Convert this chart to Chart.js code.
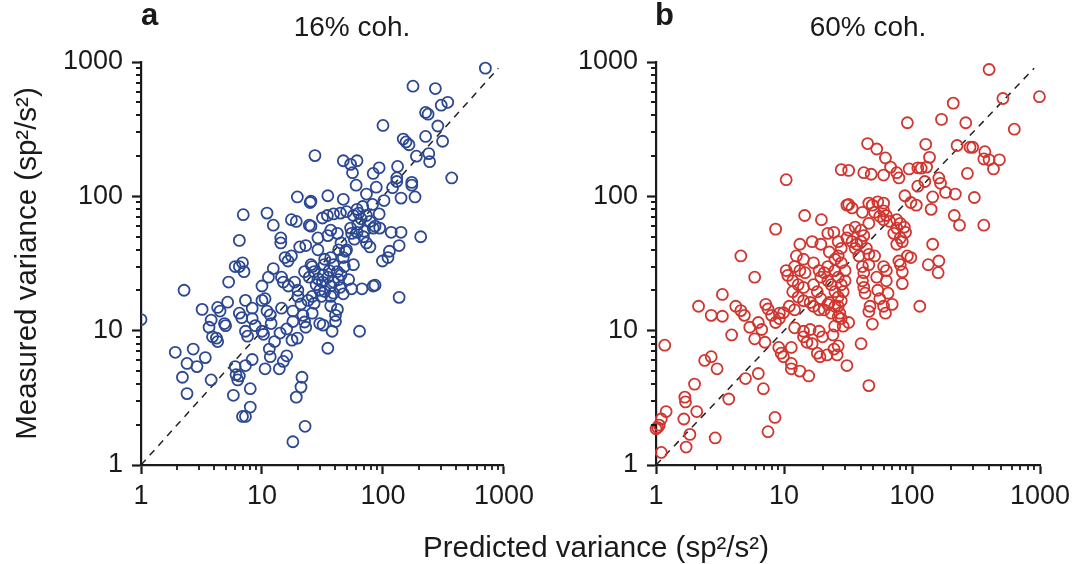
<!DOCTYPE html>
<html><head><meta charset="utf-8">
<script src="https://cdn.jsdelivr.net/npm/chart.js@4.4.1/dist/chart.umd.min.js"></script>
<style>
html,body{margin:0;padding:0;background:#fff;width:1081px;height:564px;overflow:hidden;}
body{position:relative;font-family:"Liberation Sans",Arial,sans-serif;color:#1a1a1a;}
canvas{position:absolute;top:0;}
#ca{left:0;}
#cb{left:540px;}
.lbl{position:absolute;white-space:nowrap;line-height:1;}
</style></head><body>
<canvas id="ca" width="540" height="564"></canvas>
<canvas id="cb" width="541" height="564"></canvas>
<div class="lbl" style="left:141px;top:-1px;font-weight:bold;font-size:31px;">a</div>
<div class="lbl" style="left:252px;width:200px;text-align:center;top:13px;font-size:28px;">16% coh.</div>
<div class="lbl" style="left:655px;top:-1px;font-weight:bold;font-size:31px;">b</div>
<div class="lbl" style="left:768px;width:200px;text-align:center;top:13px;font-size:28px;">60% coh.</div>
<div class="lbl" style="left:396px;width:400px;text-align:center;top:532px;font-size:29.5px;">Predicted variance (sp²/s²)</div>
<script>
// ---- data ----
const predA = [702,177,271,343,303,225,236,100,284,147,155,164,225,311,27.4,189,239,243,47,61,54,56,93,132,370,83,130,130,173,173,60,88,120,184,141,73,102,19.6,25.4,25,35,47,82,68,93,61,7.0,11,12.4,17.5,19.2,24.6,25.4,31.6,34.7,39,44.5,50,57,63,73,78,86,94,117,141,205,136,113,110,99,54,55,61,69,73,78,83,37,42,45,43,35,29,29,23,14.3,14.3,20.5,15.5,16.4,17.5,6.5,6.9,6.5,6.0,7.1,12.4,11.3,10,5.3,14.5,15,18.6,19.8,16.5,25.4,32.6,37,39,47,49,57,22.5,24.6,27,29,31.6,35,37,39,43,42,45,19.8,21,24,26,30,33,37,39,47,55,67,83,86,136,10.6,10,7.3,5.2,4.3,4.5,3.2,6.5,6.8,8.3,11,11.7,14.5,18,18,21.8,22.5,26,40.5,42,37,3.8,3.65,4.9,8.3,8.8,11.9,10,10.3,7.3,7.6,14.1,16,19.6,23,30,32,38,40.5,64,35,3.9,4.2,4.3,5,1.92,2.7,2.4,2.9,3.4,2.2,2.4,3.8,6.0,6.1,6.3,6.5,7.3,8.3,8,5.8,8,6.9,7.3,10.6,11.7,11.5,12.7,13.9,15,16,17.7,19.2,21,21.4,22.7,18,1.0,2.27,28,32,36,26,33,48,44,52,62,66,70,58,31,27,50];
const measA = [900,661,634,501,477,421,409,337,334,267,254,242,279,257,201,199,208,181,184,184,173,150,163,167,137,148,137,129,127,121,121,117,116,99,97,104,93,99,92,90,101,95,87,84,74,80,73,75,61,67,65,61,60,69,72,74,75,77,72,75,72,65,60,58,54,54,50,43,39,35,33,58,53,54,50,45,42,58,56,53,45,40,51,49,40,43,49,45,42,35,33,36,47,32,30,30,27.5,29,25,21.5,23,25,23,23,20,21.5,31,31,35,31,35,39,31,27.5,25,27.5,24.3,23,25,21.5,23,24,27.5,26,18,15.8,16.8,18,20,19.6,18,19,18.8,20.5,20.5,21.5,21.8,17.7,17.3,16.8,16.8,16.3,14.9,14,14.4,13.5,12.5,14.7,14,13.1,14.7,14,11.7,13,11.6,13.5,13,14.4,15.3,12,10.6,11.3,12.3,10.9,11.3,9.9,9.4,9.9,9.1,9.6,10.3,8.8,10.6,11.3,11,9.9,11.7,9.9,7.4,9,8.8,8.3,10.9,6.9,7.3,5.7,5.4,6.3,4.5,3.4,4.3,5.4,4.7,4.3,4.6,5.5,6.1,3.7,3.3,2.7,2.3,2.3,5.2,6.4,7.3,8.3,5.2,5.9,6.5,8.5,3.2,3.8,4.5,1.94,1.49,12.1,20,22,26,28,30,34,30,21,24,62,68,55,48,18,16,40];
const predB = [400,513,990,630,210,170,92,263,271,45,53,128,225,284,298,371,62,137,364,400,482,433,68,28,32,42,48,60,76,79,95,111,118,130,162,167,111,126,183,145,88,307,218,214,235,364,141,98,108,10.4,14.5,19.6,8.6,22,24.5,32,34,41,46,49,54,60,60,51,56,63,67,76,81,87,89,76,81,84,72,76,60,46,36,40,42,32,31,34,37,40,44,46,36,38.5,46,41,42,41,42,43,53,60,63,51,26.5,28,26.5,22.6,25,28,30,25,26.5,28,30,29,28,22,20.6,22,23.4,25,26.5,22.6,25,26.5,23.4,27.3,17,18.8,19.4,17,18.2,19.4,16,17,18.8,20.6,22,13.3,16.6,19.4,12.5,14.2,12.1,13.3,14.6,11.7,12.9,14.2,11.7,12.9,14.2,11,12.1,10.4,10.7,5.9,7.2,7.5,8.0,9.2,9.9,8.6,9.2,5.4,6.3,6.7,5.9,7.1,9.1,9.5,9.9,11.4,11.4,11.4,13.3,15.6,12.1,14.2,16,14.2,15.1,16.6,18.8,20,18.2,19.1,21.7,24.1,24.9,24.6,26,26.5,29,31,26.5,28,32,40,46,47,46,49,54,56,60,62,65,70,63,79,81,84,84,92,98,134,162,160,145,115,4.2,4.9,2.7,3.3,3.3,4.6,3.9,4.6,2.15,1.17,2.4,2.7,3.0,5.0,2.0,3.7,6.3,6.9,1.68,1.70,2.08,1.65,1.2,1.1,1.03,1.0,1.06,1.84,1.72,1.1,2.9,7.5,8.5,31];
const measB = [879,535,552,316,494,374,353,353,148,247,225,244,239,232,232,215,193,195,190,187,187,160,165,158,156,150,146,144,150,137,160,163,162,165,137,125,119,129,107,99,101,98,104,72,61,61,80,90,86,133,72,67,57,53,54,87,82,76,89,86,91,89,78,76,71,72,65,67,63,59,54,58,49,46,53,44,67,63,59,56,51,56,49,46,44,46,41,37,41,36,31,30,27,23.5,21,19,25,30,28,36,46,41,36,38.5,34,32,28,28,25,22,23.5,19.5,16.7,30,27,23.5,22,19.5,17.8,16.2,15.2,15.2,13.5,13.5,32,28,25,22,19.5,17.3,16.2,15.2,14.3,14.3,15.7,44,46,44,36,34,30,28,27,23.5,22,21,19.5,17.8,16.7,15.2,14.3,28,25.8,25,15.7,14.5,13,13.5,13.6,11.5,12.3,10.6,11.5,10.2,8.7,8.2,7.5,6.8,6.4,7.5,5.7,5.2,5.0,4.6,10.5,9.9,10.2,9.0,8.2,8.0,9.9,9.0,6.8,6.4,6.6,9.3,10.8,7.3,6.6,7.7,10.8,5.5,12.7,12.3,11.5,8.0,3.9,15.2,13.9,11.2,20,17.3,15.2,13.5,19,15.7,23.5,33,31,27.4,22.4,36,35,31,33,27,44,15.2,15.2,13,13,12.8,18.6,14.1,9.3,36,15.2,7.8,6.0,6.4,5.2,4.4,4.0,3.1,4.8,3.7,3.2,2.95,2.5,2.2,2.5,2.2,1.9,1.86,1.98,1.69,1.36,1.24,1.59,1.77,2.26,86];
const identityLine = [1, 900];
const majorTicks = [1, 10, 100, 1000];
const minorTicks = [2,3,4,5,6,7,8,9,20,30,40,50,60,70,80,90,200,300,400,500,600,700,800,900];

// ---- styling ----
const FONT = '"Liberation Sans", Arial, sans-serif';
const AXIS = '#1a1a1a';
const BLUE = '#2c4892';
const RED = '#d0362f';

function pts(xs, ys) { return xs.map((v, i) => ({x: v, y: ys[i]})); }

const minorTickPlugin = {
  id: 'minorTicks',
  afterDraw(chart) {
    const {ctx, chartArea} = chart;
    const xs = chart.scales.x, ys = chart.scales.y;
    ctx.save();
    ctx.strokeStyle = AXIS;
    ctx.lineWidth = 1.8;
    ctx.beginPath();
    minorTicks.forEach(v => {
      const px = Math.round(xs.getPixelForValue(v));
      ctx.moveTo(px, chartArea.bottom);
      ctx.lineTo(px, chartArea.bottom + 5);
      const py = Math.round(ys.getPixelForValue(v));
      ctx.moveTo(chartArea.left, py);
      ctx.lineTo(chartArea.left - 5, py);
    });
    ctx.stroke();
    ctx.restore();
  }
};

function logAxis(extra) {
  return Object.assign({
    type: 'logarithmic',
    min: 1, max: 1000,
    afterBuildTicks(scale) { scale.ticks = majorTicks.map(v => ({value: v, major: true})); },
    border: {display: true, color: AXIS, width: 2.2},
    grid: {display: true, drawOnChartArea: false, drawTicks: true, tickLength: 9, tickWidth: 2.2, tickColor: AXIS},
    ticks: {
      color: AXIS, font: {family: FONT, size: 27},
      autoSkip: false, maxRotation: 0, minRotation: 0,
      callback: v => majorTicks.includes(v) ? String(v) : ''
    }
  }, extra);
}

function makeChart(id, xs, ys, color, yWidth, padRight, withTitle, clipLeft) {
  const yExtra = {
    afterFit(scale) { scale.width = yWidth; },
    title: withTitle ? {display: true, text: 'Measured variance (sp²/s²)', color: AXIS,
      font: {family: FONT, size: 29.5}, padding: {top: 10, bottom: 0}} : {display: false}
  };
  const y = logAxis(yExtra);
  y.ticks.padding = 9;
  const x = logAxis({afterFit(scale) { scale.height = 60; }});
  x.ticks.padding = 6;
  return new Chart(document.getElementById(id), {
    data: {
      datasets: [
        {type: 'line', data: identityLine.map(v => ({x: v, y: v})), borderColor: '#222',
         borderWidth: 1.5, borderDash: [7, 6], pointRadius: 0, fill: false, order: 2},
        {type: 'scatter', data: pts(xs, ys), pointStyle: 'circle', pointRadius: 5.5,
         pointBorderWidth: 1.8, pointBorderColor: color, pointBackgroundColor: 'rgba(255,255,255,0)',
         pointHoverRadius: 5.5, order: 1,
         clip: clipLeft ? {left: 0, top: false, right: false, bottom: false} : false}
      ]
    },
    options: {
      responsive: false, animation: false,
      layout: {padding: {left: 0, right: padRight, top: 62, bottom: 39}},
      plugins: {legend: {display: false}, tooltip: {enabled: false}, title: {display: false}},
      scales: {x, y}
    },
    plugins: [minorTickPlugin]
  });
}

makeChart('ca', predA, measA, BLUE, 141, 30, true, true);
makeChart('cb', predB, measB, RED, 116, 41, false, false);
</script>
</body></html>
